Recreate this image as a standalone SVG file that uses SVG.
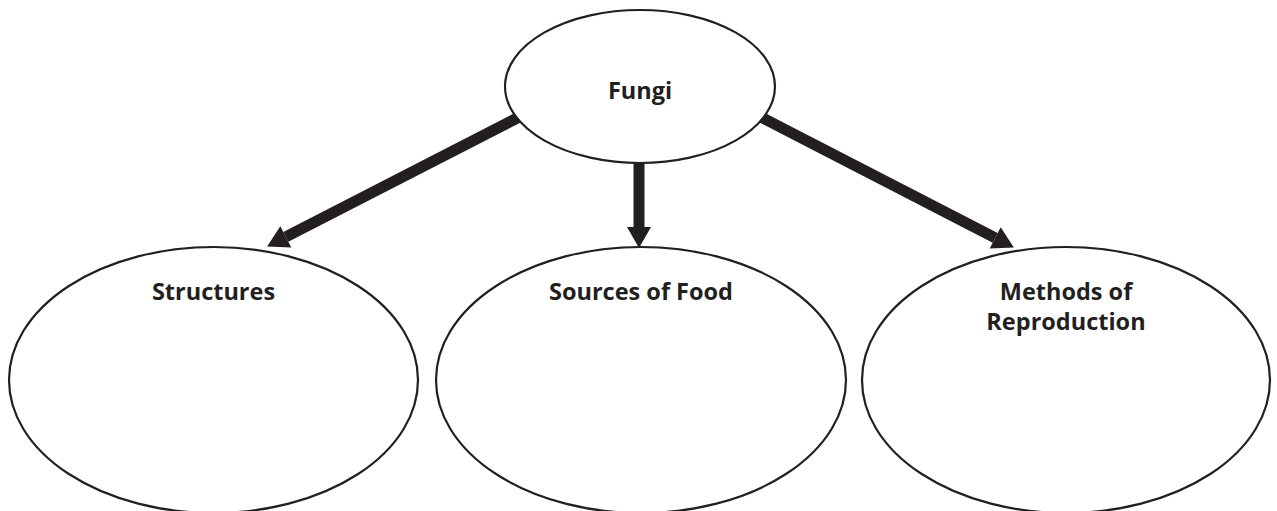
<svg xmlns="http://www.w3.org/2000/svg" width="1277" height="511" viewBox="0 0 1277 511">
<style>
.node ellipse{fill:#fff;stroke:#231f20;stroke-width:2.2}
.lbl{font-family:"Open Sans","Noto Sans","Liberation Sans",sans-serif;font-weight:bold;font-size:23.5px;fill:#231f20;text-anchor:middle}
.conn line{stroke:#231f20;stroke-width:11}
</style>
<defs>
<marker id="ah" markerUnits="userSpaceOnUse" markerWidth="22" markerHeight="26" refX="0" refY="12" orient="auto" overflow="visible">
<path d="M0,0 L21,12 L0,24 z" fill="#231f20"/>
</marker>
</defs>
<rect width="1277" height="511" fill="#fff"/>
<g id="connectors" class="conn">
<line x1="525" y1="114" x2="285.8" y2="236.9" marker-end="url(#ah)"/>
<line x1="639" y1="150" x2="639" y2="227" marker-end="url(#ah)"/>
<line x1="755" y1="114" x2="995.2" y2="237.8" marker-end="url(#ah)"/>
</g>
<g id="fungi" class="node">
<ellipse cx="640" cy="86.5" rx="135" ry="76.5"/>
<text class="lbl" x="640" y="99">Fungi</text>
</g>
<g id="structures" class="node">
<ellipse cx="213.5" cy="380" rx="204.5" ry="133"/>
<text class="lbl" x="213.5" y="300">Structures</text>
</g>
<g id="sources" class="node">
<ellipse cx="641" cy="380" rx="205" ry="133"/>
<text class="lbl" x="641" y="300">Sources of Food</text>
</g>
<g id="methods" class="node">
<ellipse cx="1066" cy="380" rx="204" ry="133"/>
<text class="lbl" x="1066" y="300">Methods of</text>
<text class="lbl" x="1066" y="330">Reproduction</text>
</g>
</svg>
